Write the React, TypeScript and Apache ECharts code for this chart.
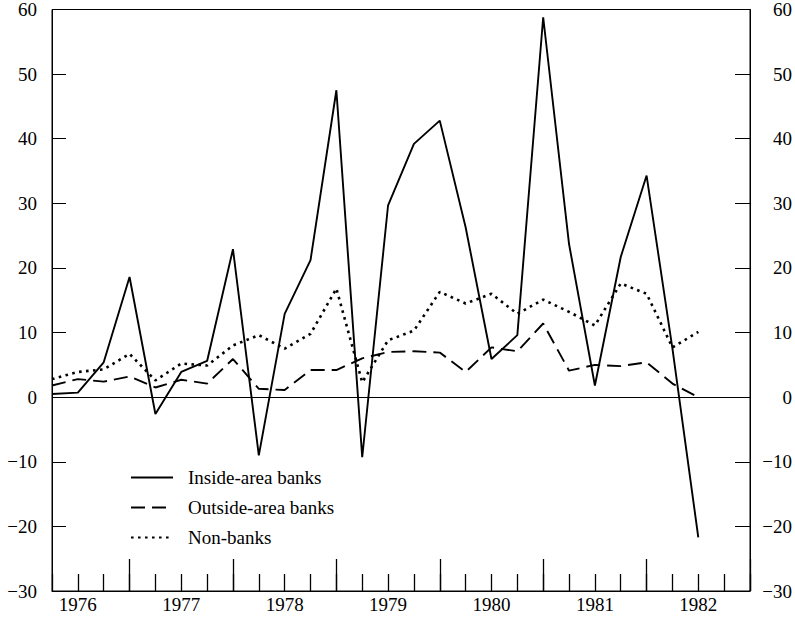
import React, { useEffect, useRef } from "react";
import * as echarts from "echarts";

const years = ["1976", "1977", "1978", "1979", "1980", "1981", "1982"];
const quarters: string[] = years.flatMap((y) => ["Q1", "Q2", "Q3", "Q4"].map((q) => `${y} ${q}`));

const insideArea = [0.5, 0.7, 5.4, 18.6, -2.6, 3.9, 5.6, 22.9, -9.0, 12.9, 21.2, 47.5, -9.3, 29.7, 39.2, 42.8, 26.3, 5.9, 9.6, 58.8, 23.7, 1.8, 21.7, 34.3, 7.5, -21.7];
const outsideArea = [1.8, 2.8, 2.4, 3.2, 1.5, 2.7, 2.1, 5.9, 1.3, 1.1, 4.2, 4.2, 6.0, 7.0, 7.1, 6.9, 3.9, 7.7, 7.1, 11.4, 4.1, 5.0, 4.8, 5.4, 2.1, 0.0];
const nonBanks = [2.8, 3.9, 4.3, 6.7, 2.6, 5.2, 4.9, 8.0, 9.6, 7.5, 9.8, 16.8, 2.3, 8.8, 10.3, 16.3, 14.5, 16.0, 12.9, 15.1, 13.2, 11.1, 17.6, 16.0, 7.7, 10.1];

const FONT = "'Liberation Serif', 'Times New Roman', serif";
const FS = 19;

const fmtY = (v: number) => (v < 0 ? "\u2212" + Math.abs(v) : String(v));

export default function App() {
  const ref = useRef<HTMLDivElement>(null);
  useEffect(() => {
    if (!ref.current) return;
    const chart = echarts.init(ref.current, undefined, { renderer: "svg" });
    const baseY = {
      type: "value" as const,
      min: -30,
      max: 60,
      interval: 10,
      splitLine: { show: false },
      axisLine: { show: true, lineStyle: { color: "#000", width: 1 } },
    };
    chart.setOption({
      animation: false,
      backgroundColor: "#fff",
      grid: { left: 52, right: 44, top: 9, bottom: 32, show: true, borderColor: "#000", borderWidth: 1 },
      legend: {
        orient: "vertical",
        left: 130,
        top: 468,
        padding: 0,
        itemWidth: 42,
        itemHeight: 14,
        itemGap: 11,
        itemStyle: { opacity: 0 },
        textStyle: { fontFamily: FONT, fontSize: FS, color: "#000", padding: [0, 0, 0, 10] },
        data: ["Inside-area banks", "Outside-area banks", "Non-banks"],
      },
      xAxis: [
        {
          type: "category",
          data: quarters,
          boundaryGap: false,
          position: "bottom",
          axisLine: { show: true, onZero: false, lineStyle: { color: "#000", width: 1 } },
          axisTick: { show: true, inside: true, length: 17, interval: 0, lineStyle: { color: "#000", width: 1.3 } },
          axisLabel: {
            interval: (idx: number) => idx % 4 === 1,
            formatter: (v: string) => v.slice(0, 4),
            fontFamily: FONT,
            fontSize: FS,
            color: "#000",
            margin: 4,
          },
          splitLine: { show: false },
        },
        {
          type: "category",
          data: quarters,
          boundaryGap: false,
          position: "bottom",
          axisLine: { show: false, onZero: false },
          axisTick: { show: true, inside: true, length: 32, interval: (idx: number) => idx % 4 === 3, lineStyle: { color: "#000", width: 1.3 } },
          axisLabel: { show: false },
          splitLine: { show: false },
        },
      ],
      yAxis: [
        {
          ...baseY,
          position: "left",
          axisTick: { show: true, inside: true, length: 14, lineStyle: { color: "#000" } },
          axisLabel: { formatter: fmtY, fontFamily: FONT, fontSize: FS, color: "#000", margin: 15 },
        },
        {
          ...baseY,
          position: "right",
          axisTick: { show: true, inside: true, length: 15, lineStyle: { color: "#000" } },
          axisLabel: { formatter: fmtY, fontFamily: FONT, fontSize: FS, color: "#000", margin: 42, align: "right" },
        },
      ],
      series: [
        {
          name: "Inside-area banks",
          type: "line",
          data: insideArea,
          symbol: "none",
          color: "#000",
          lineStyle: { color: "#000", width: 1.9, type: "solid" },
          markLine: {
            silent: true,
            symbol: "none",
            label: { show: false },
            lineStyle: { color: "#000", width: 1, type: "solid" },
            data: [{ yAxis: 0 }],
          },
        },
        {
          name: "Outside-area banks",
          type: "line",
          data: outsideArea,
          symbol: "none",
          color: "#000",
          lineStyle: { color: "#000", width: 1.9, type: [14, 7] },
        },
        {
          name: "Non-banks",
          type: "line",
          data: nonBanks,
          symbol: "none",
          color: "#000",
          lineStyle: { color: "#000", width: 2.6, type: [2.6, 4.4] },
        },
      ],
    });
    return () => chart.dispose();
  }, []);
  return <div ref={ref} style={{ position: "absolute", left: 0, top: 0, width: 795, height: 623, background: "#fff" }} />;
}
